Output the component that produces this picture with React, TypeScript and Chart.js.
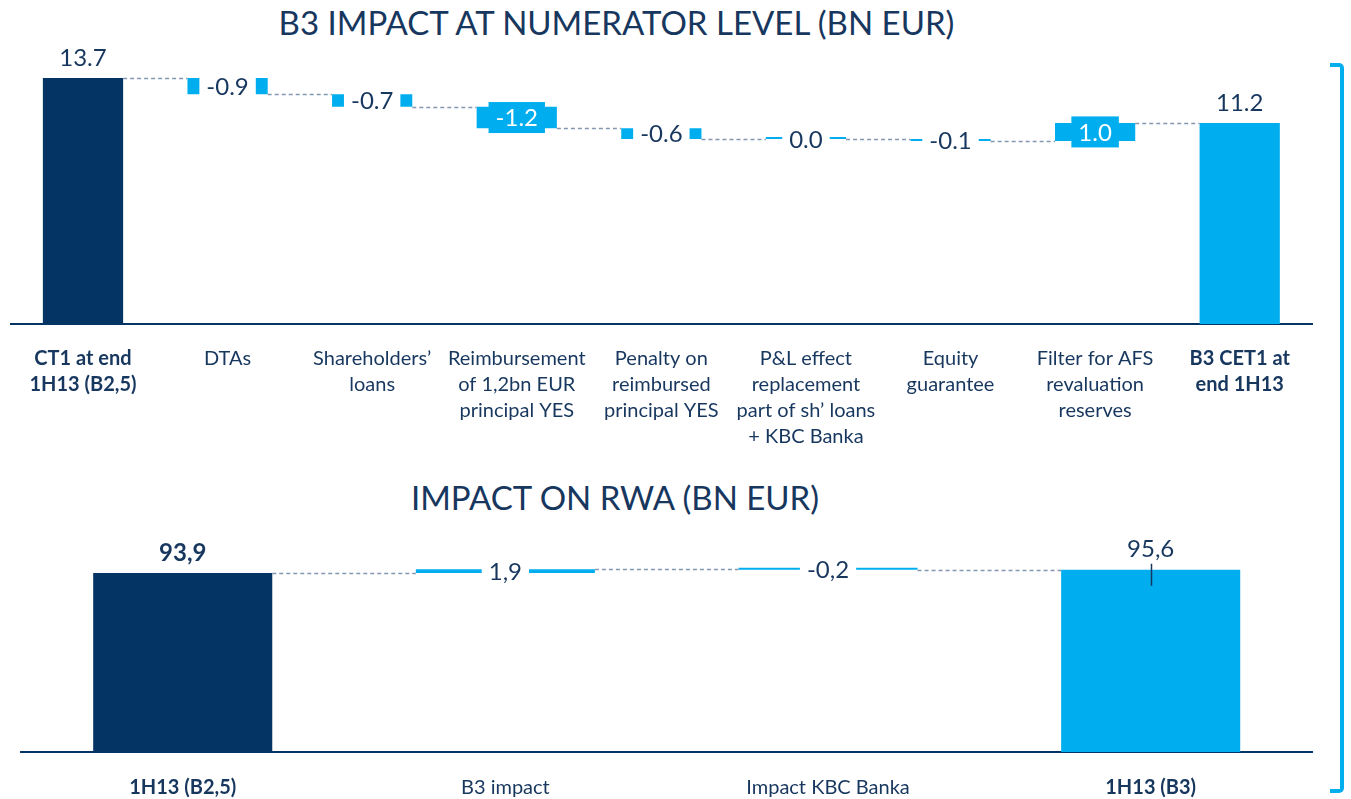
import React, { useEffect, useRef } from "react";
import { Chart, registerables } from "chart.js";

Chart.register(...registerables);

const NAVY = "#033463";
const BLUE = "#00AEEF";
const TEXT = "#17375E";
const DASH = "#8497B0";
const FONT = "Lato, 'Open Sans', sans-serif";

// ---- Top chart data ----
const topTitle = "B3 IMPACT AT NUMERATOR LEVEL (BN EUR)";
const topCategories = [
  ["CT1 at end", "1H13 (B2,5)"],
  ["DTAs"],
  ["Shareholders’", "loans"],
  ["Reimbursement", "of 1,2bn EUR", "principal YES"],
  ["Penalty on", "reimbursed", "principal YES"],
  ["P&L effect", "replacement", "part of sh’ loans", "+ KBC Banka"],
  ["Equity", "guarantee"],
  ["Filter for AFS", "revaluation", "reserves"],
  ["B3 CET1 at", "end 1H13"],
];
const topValues = [13.7, -0.9, -0.7, -1.2, -0.6, 0.0, -0.1, 1.0, 11.2];
const topIsTotal = [true, false, false, false, false, false, false, false, true];
const topBoldTicks = [true, false, false, false, false, false, false, false, true];
const topBoldValues = [false, false, false, false, false, false, false, false, false];

// ---- Bottom chart data ----
const bottomTitle = "IMPACT ON RWA (BN EUR)";
const bottomCategories = ["1H13 (B2,5)", "B3 impact", "Impact KBC Banka", "1H13 (B3)"];
const bottomValues = [93.9, 1.9, -0.2, 95.6];
const bottomIsTotal = [true, false, false, true];
const bottomBoldTicks = [true, false, false, true];
const bottomBoldValues = [true, false, false, false];

function buildRanges(values: number[], isTotal: boolean[]) {
  let run = 0;
  return values.map((v, i) => {
    if (isTotal[i]) {
      run = v;
      return [0, v];
    }
    const s = run;
    run = Math.round((run + v) * 1000) / 1000;
    return [s, run];
  });
}

const waterfallPlugin = {
  id: "waterfallDeco",
  afterDatasetsDraw(chart: any, _args: any, opts: any) {
    const ctx = chart.ctx;
    const meta = chart.getDatasetMeta(0);
    const yScale = chart.scales.y;
    const ranges = chart.data.datasets[0].data as number[][];
    const values: number[] = opts.values;
    const isTotal: boolean[] = opts.isTotal;
    const bold: boolean[] = opts.boldValues;
    const fmt = (v: number) => {
      const s = v.toFixed(1);
      return opts.comma ? s.replace(".", ",") : s;
    };
    ctx.save();
    // connectors
    ctx.setLineDash([4, 3]);
    ctx.strokeStyle = DASH;
    ctx.lineWidth = 1.5;
    for (let i = 0; i < ranges.length - 1; i++) {
      const a = meta.data[i];
      const b = meta.data[i + 1];
      const py = Math.round(yScale.getPixelForValue(ranges[i][1])) + 0.5;
      ctx.beginPath();
      ctx.moveTo(a.x + a.width / 2, py);
      ctx.lineTo(b.x - b.width / 2, py);
      ctx.stroke();
    }
    ctx.setLineDash([]);
    // labels
    ctx.textAlign = "center";
    ctx.textBaseline = "middle";
    for (let i = 0; i < values.length; i++) {
      const el = meta.data[i];
      const txt = fmt(values[i]);
      ctx.font = `${bold[i] ? "bold " : ""}24px ${FONT}`;
      if (isTotal[i]) {
        const top = yScale.getPixelForValue(Math.max(ranges[i][0], ranges[i][1]));
        ctx.fillStyle = TEXT;
        ctx.fillText(txt, el.x, top - 20);
        if (opts.marker && i === values.length - 1) {
          ctx.strokeStyle = TEXT;
          ctx.lineWidth = 1.5;
          ctx.beginPath();
          ctx.moveTo(Math.round(el.x) + 0.5, top - 6);
          ctx.lineTo(Math.round(el.x) + 0.5, top + 16);
          ctx.stroke();
        }
      } else {
        const p0 = yScale.getPixelForValue(ranges[i][0]);
        const p1 = yScale.getPixelForValue(ranges[i][1]);
        const cy = (p0 + p1) / 2;
        const w = ctx.measureText(txt).width + 14;
        const h = 31;
        const inside = Math.abs(p1 - p0) >= 17;
        ctx.fillStyle = inside ? BLUE : "#ffffff";
        ctx.fillRect(el.x - w / 2, cy - h / 2, w, h);
        ctx.fillStyle = inside ? "#ffffff" : TEXT;
        ctx.fillText(txt, el.x, cy + 1);
      }
    }
    ctx.restore();
  },
};

type WFProps = {
  categories: any[];
  values: number[];
  isTotal: boolean[];
  boldTicks: boolean[];
  boldValues: boolean[];
  firstColor: string;
  yMax: number;
  comma: boolean;
  marker: boolean;
  width: number;
  height: number;
  padLeft: number;
  padRight: number;
  axisHeight: number;
  tickPadding: number;
  barPct: number;
  minBar: number;
  style: React.CSSProperties;
};

function Waterfall(p: WFProps) {
  const ref = useRef<HTMLCanvasElement | null>(null);
  useEffect(() => {
    if (!ref.current) return;
    const ranges = buildRanges(p.values, p.isTotal);
    const colors = p.values.map((_, i) => (i === 0 ? p.firstColor : BLUE));
    const chart = new Chart(ref.current, {
      type: "bar",
      data: {
        labels: p.categories,
        datasets: [
          {
            data: ranges as any,
            backgroundColor: colors,
            borderWidth: 0,
            barPercentage: p.barPct,
            categoryPercentage: 1,
            minBarLength: p.minBar,
          },
        ],
      },
      options: {
        responsive: false,
        animation: false,
        layout: { padding: { left: p.padLeft, right: p.padRight, top: 0, bottom: 0 } },
        plugins: {
          legend: { display: false },
          tooltip: { enabled: false },
          waterfallDeco: {
            values: p.values,
            isTotal: p.isTotal,
            boldValues: p.boldValues,
            comma: p.comma,
            marker: p.marker,
          },
        } as any,
        scales: {
          x: {
            grid: { display: false },
            border: { display: true, color: NAVY, width: 2 },
            afterFit: (scale: any) => {
              scale.height = p.axisHeight;
            },
            ticks: {
              color: TEXT,
              padding: p.tickPadding,
              maxRotation: 0,
              autoSkip: false,
              font: (c: any) => ({
                family: FONT,
                size: 20,
                lineHeight: 1.3,
                weight: p.boldTicks[c.index] ? "bold" : "normal",
              }),
            },
          },
          y: {
            display: false,
            min: 0,
            max: p.yMax,
          },
        },
      },
      plugins: [waterfallPlugin],
    });
    return () => chart.destroy();
  }, []);
  return <canvas ref={ref} width={p.width} height={p.height} style={p.style} />;
}

export default function App() {
  return (
    <div
      style={{
        position: "absolute",
        left: 0,
        top: 0,
        width: 1351,
        height: 799,
        background: "#ffffff",
        fontFamily: FONT,
        overflow: "hidden",
      }}
    >
      <div
        style={{
          position: "absolute",
          left: 0,
          width: 1233,
          top: 2,
          textAlign: "center",
          fontSize: 33,
          color: TEXT,
          lineHeight: "40px",
        }}
      >
        {topTitle}
      </div>
      <Waterfall
        categories={topCategories}
        values={topValues}
        isTotal={topIsTotal}
        boldTicks={topBoldTicks}
        boldValues={topBoldValues}
        firstColor={NAVY}
        yMax={15.82}
        comma={false}
        marker={false}
        width={1320}
        height={414}
        padLeft={10.7}
        padRight={8}
        axisHeight={130}
        tickPadding={14}
        barPct={0.555}
        minBar={2}
        style={{ position: "absolute", left: 0, top: 40 }}
      />
      <div
        style={{
          position: "absolute",
          left: 0,
          width: 1230,
          top: 477,
          textAlign: "center",
          fontSize: 33,
          color: TEXT,
          lineHeight: "40px",
        }}
      >
        {bottomTitle}
      </div>
      <Waterfall
        categories={bottomCategories}
        values={bottomValues}
        isTotal={bottomIsTotal}
        boldTicks={bottomBoldTicks}
        boldValues={bottomBoldValues}
        firstColor={NAVY}
        yMax={121.7}
        comma={true}
        marker={true}
        width={1320}
        height={279}
        padLeft={21.4}
        padRight={8}
        axisHeight={47}
        tickPadding={15}
        barPct={0.555}
        minBar={2}
        style={{ position: "absolute", left: 0, top: 520 }}
      />
      <div
        style={{
          position: "absolute",
          left: 1330,
          top: 63,
          width: 10,
          height: 722,
          borderTop: `4px solid ${BLUE}`,
          borderRight: `4px solid ${BLUE}`,
          borderBottom: `4px solid ${BLUE}`,
          borderRadius: "0 5px 5px 0",
        }}
      />
    </div>
  );
}
